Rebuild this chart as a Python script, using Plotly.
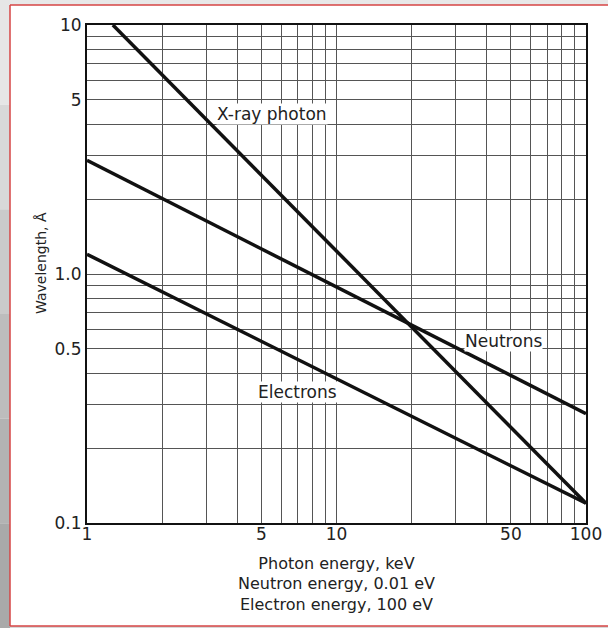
import numpy as np
import plotly.graph_objects as go

# ---- data ----
xray_energy = [1.27, 100]
xray_wavelength = [10.0, 0.12]

neutron_energy = [1, 100]
neutron_wavelength = [2.86, 0.275]

electron_energy = [1, 100]
electron_wavelength = [1.2, 0.12]

x_grid_vals = [1, 2, 3, 4, 5, 6, 7, 8, 9, 10, 20, 30, 40, 50, 60, 70, 80, 90, 100]
x_tick_labels = {1: "1", 5: "5", 10: "10", 50: "50", 100: "100"}
y_grid_vals = [0.1, 0.2, 0.3, 0.4, 0.5, 0.6, 0.7, 0.8, 0.9, 1, 2, 3, 4, 5, 6, 7, 8, 9, 10]
y_tick_labels = {0.1: "0.1", 0.5: "0.5", 1: "1.0", 5: "5", 10: "10"}

labels = ["X-ray photon", "Neutrons", "Electrons"]
label_x = [5.5, 46.5, 7.0]
label_y = [4.41, 0.54, 0.335]

FONT = "DejaVu Sans, Liberation Sans, Arial, sans-serif"

fig = go.Figure()
line_style = dict(color="#111111", width=3.5)
for xs, ys, name in [(xray_energy, xray_wavelength, "X-ray photon"),
                     (neutron_energy, neutron_wavelength, "Neutrons"),
                     (electron_energy, electron_wavelength, "Electrons")]:
    fig.add_trace(go.Scatter(x=xs, y=ys, mode="lines", line=line_style,
                             name=name, showlegend=False, hoverinfo="skip"))

for txt, lx, ly in zip(labels, label_x, label_y):
    fig.add_annotation(x=np.log10(lx), y=np.log10(ly), xref="x", yref="y",
                       text=txt, showarrow=False, bgcolor="white", borderpad=0,
                       font=dict(family=FONT, size=17, color="#222222"))

# page geometry
W, H = 608, 628
L, R, T, B = 87, 22, 25, 105
pw, ph = W - L - R, H - T - B

def px_x(p):
    return (p - L) / pw

def px_y(p):
    return (H - B - p) / ph

# y-axis title placed as rotated text left of the axis
fig.add_annotation(x=px_x(41), y=px_y(263), xref="paper", yref="paper",
                   text="Wavelength, Å", textangle=-90, showarrow=False,
                   xanchor="center", yanchor="middle",
                   font=dict(family=FONT, size=14, color="#222222"))

shapes = []
# grey surround: top strip, bottom strip, left gradient strip
shapes.append(dict(type="rect", xref="paper", yref="paper",
                   x0=px_x(0), x1=px_x(W), y0=px_y(5), y1=px_y(0),
                   fillcolor="#e8e8e8", line=dict(width=0), layer="below"))
shapes.append(dict(type="rect", xref="paper", yref="paper",
                   x0=px_x(0), x1=px_x(W), y0=px_y(H), y1=px_y(626),
                   fillcolor="#d8d8d8", line=dict(width=0), layer="below"))
bands = ["#e6e6e6", "#d8d8d8", "#cacaca", "#bdbdbd", "#b3b3b3", "#a9a9a9"]
nb = len(bands)
for i, c in enumerate(bands):
    shapes.append(dict(type="rect", xref="paper", yref="paper",
                       x0=px_x(0), x1=px_x(10), y0=px_y(H * (i + 1) / nb), y1=px_y(H * i / nb),
                       fillcolor=c, line=dict(width=0), layer="below"))
# red frame: left, top, bottom edges
red = dict(color="#d64545", width=1.5)
shapes.append(dict(type="line", xref="paper", yref="paper",
                   x0=px_x(10), x1=px_x(10), y0=px_y(626), y1=px_y(5), line=red, layer="below"))
shapes.append(dict(type="line", xref="paper", yref="paper",
                   x0=px_x(10), x1=px_x(W), y0=px_y(5), y1=px_y(5), line=red, layer="below"))
shapes.append(dict(type="line", xref="paper", yref="paper",
                   x0=px_x(10), x1=px_x(W), y0=px_y(626), y1=px_y(626), line=red, layer="below"))

fig.update_layout(
    width=W, height=H, autosize=False,
    margin=dict(l=L, r=R, t=T, b=B, pad=0),
    paper_bgcolor="white",
    plot_bgcolor="white",
    font=dict(family=FONT, size=17, color="#222222"),
    shapes=shapes,
    xaxis=dict(
        type="log", range=[0, 2], automargin=False,
        tickvals=x_grid_vals,
        ticktext=[x_tick_labels.get(v, "") for v in x_grid_vals],
        showgrid=True, gridcolor="#555555", gridwidth=1,
        showline=True, linecolor="#111111", linewidth=2, mirror=True,
        ticks="", zeroline=False, ticklabelstandoff=-5,
        tickfont=dict(size=17),
        title=dict(text="Photon energy, keV<br>Neutron energy, 0.01 eV<br>Electron energy, 100 eV",
                   font=dict(size=16), standoff=14),
    ),
    yaxis=dict(
        type="log", range=[-1, 1], automargin=False,
        tickvals=y_grid_vals,
        ticktext=[y_tick_labels.get(v, "") for v in y_grid_vals],
        showgrid=True, gridcolor="#555555", gridwidth=1,
        showline=True, linecolor="#111111", linewidth=2, mirror=True,
        ticks="", zeroline=False,
        tickfont=dict(size=17),
    ),
)

fig.write_html("out.html", config={"displayModeBar": False},
               post_script="document.body.style.margin='0';document.body.style.overflow='hidden';")
